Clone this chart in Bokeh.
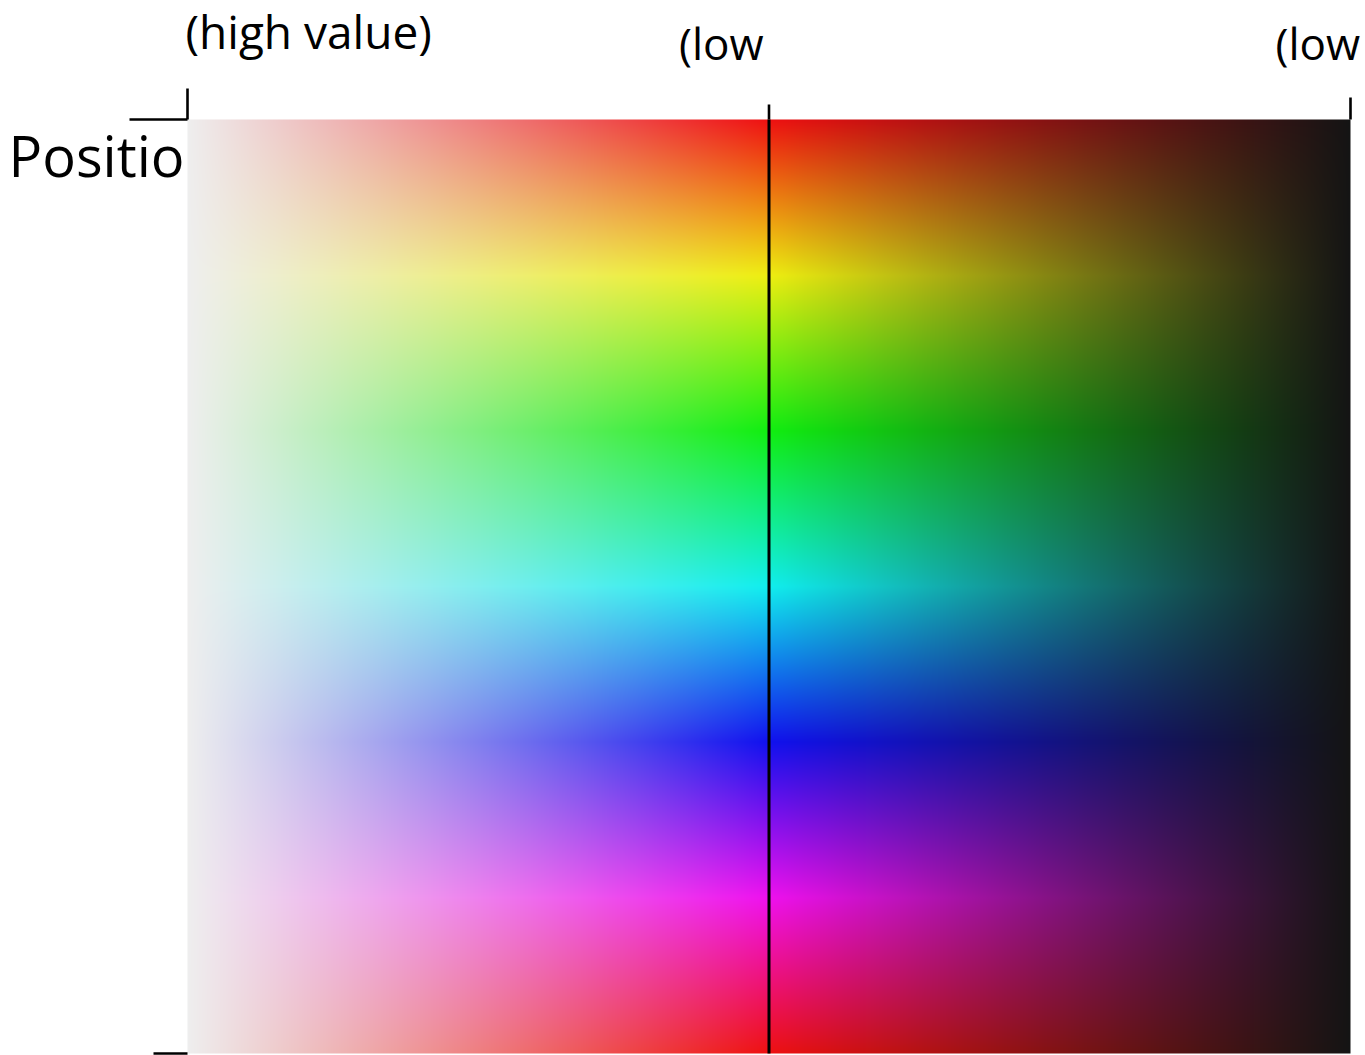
import numpy as np
from bokeh.plotting import figure
from bokeh.models import Range1d, ColumnDataSource
from bokeh.core.properties import value
from bokeh.embed import file_html
from bokeh.resources import INLINE

# ---- data ----
hue_stops = [0, 60, 120, 180, 240, 300, 360]
hue_colors = ["#ee1111", "#eeee11", "#11ee11", "#11eeee", "#1111ee", "#ee11ee", "#ee1111"]
value_stops = [0.0, 0.5, 1.0]          # along x: high value -> pure hue -> low
light_edge = "#eeeeee"
dark_edge = "#141414"
x_ticks = [0.0, 0.5, 1.0]
x_tick_labels = ["(high value)", "(low", "(low"]
y_ticks = [0, 360]
y_label = "Positio"
divider_x = 0.5

# ---- layout / style (pixels) ----
W, H = 1365, 1055
img_left, img_right, img_top, img_bottom = 187, 1350, 119, 1053
x_tick_len = [31, 15, 22]
y_tick_len = [58, 34]
x_label_dx = [-2, -90, -75]
x_label_dy = [-89, -77, -77]
x_label_size = ["46px", "44px", "44px"]

def hex_rgb(h):
    h = h.lstrip("#")
    return [int(h[i:i + 2], 16) for i in (0, 2, 4)]

# ---- colour field ----
rows, cols = img_bottom - img_top, img_right - img_left
hues = np.linspace(hue_stops[0], hue_stops[-1], rows)
hc = np.array([hex_rgb(c) for c in hue_colors], dtype=float)
hue_rgb = np.stack([np.interp(hues, hue_stops, hc[:, k]) for k in range(3)], axis=1)
xs = np.linspace(value_stops[0], value_stops[-1], cols)
lo = np.array(hex_rgb(light_edge), dtype=float)
dk = np.array(hex_rgb(dark_edge), dtype=float)
mid = value_stops[1]
wl = np.clip((mid - xs) / (mid - value_stops[0]), 0, 1)
wd = np.clip((xs - mid) / (value_stops[2] - mid), 0, 1)
wh = 1 - wl - wd
rgb = (wh[None, :, None] * hue_rgb[:, None, :]
       + wl[None, :, None] * lo[None, None, :]
       + wd[None, :, None] * dk[None, None, :])
img = np.empty((rows, cols), dtype=np.uint32)
view = img.view(dtype=np.uint8).reshape((rows, cols, 4))
view[:, :, :3] = np.clip(np.round(rgb), 0, 255).astype(np.uint8)
view[:, :, 3] = 255

# ---- scales: the frame covers the whole canvas ----
px_x = (img_right - img_left) / (value_stops[-1] - value_stops[0])
px_y = (img_bottom - img_top) / (hue_stops[-1] - hue_stops[0])
x_range = Range1d(value_stops[0] - img_left / px_x, value_stops[0] + (W - img_left) / px_x)
y_range = Range1d(hue_stops[0] + (H - img_top) / px_y, hue_stops[0] - img_top / px_y)

p = figure(width=W, height=H, frame_width=W, frame_height=H,
           x_range=x_range, y_range=y_range,
           x_axis_type=None, y_axis_type=None,
           min_border=0, output_backend="svg", toolbar_location=None)
p.grid.visible = False
p.outline_line_color = None
p.background_fill_color = "white"
p.border_fill_color = "white"

p.image_rgba(image=[img], x=value_stops[0], y=hue_stops[0],
             dw=value_stops[-1] - value_stops[0], dh=hue_stops[-1] - hue_stops[0])

# divider at the pure-hue column
p.segment(x0=[divider_x], y0=[hue_stops[0]], x1=[divider_x], y1=[hue_stops[-1]],
          line_color="black", line_width=3)

# top ticks
p.segment(x0=x_ticks, y0=[hue_stops[0]] * len(x_ticks), x1=x_ticks,
          y1=[hue_stops[0] - L / px_y for L in x_tick_len],
          line_color="black", line_width=2.6)
# left ticks
p.segment(x0=[value_stops[0]] * len(y_ticks), y0=y_ticks,
          x1=[value_stops[0] - L / px_x for L in y_tick_len], y1=y_ticks,
          line_color="black", line_width=2.6)

lab = ColumnDataSource(dict(x=x_ticks, y=[hue_stops[0]] * len(x_ticks), text=x_tick_labels,
                            dx=x_label_dx, dy=x_label_dy, fs=x_label_size))
p.text(x="x", y="y", text="text", x_offset="dx", y_offset="dy", text_font_size="fs",
       source=lab, text_font=value("Open Sans"), text_color="black",
       text_align="left", text_baseline="alphabetic")

p.text(x=[value_stops[0]], y=[hue_stops[0]], text=[y_label], x_offset=-3, y_offset=35,
       text_font=value("Open Sans"), text_font_size=value("56px"), text_color="black",
       text_align="right", text_baseline="alphabetic")

open("out.html", "w").write(file_html(p, INLINE))
